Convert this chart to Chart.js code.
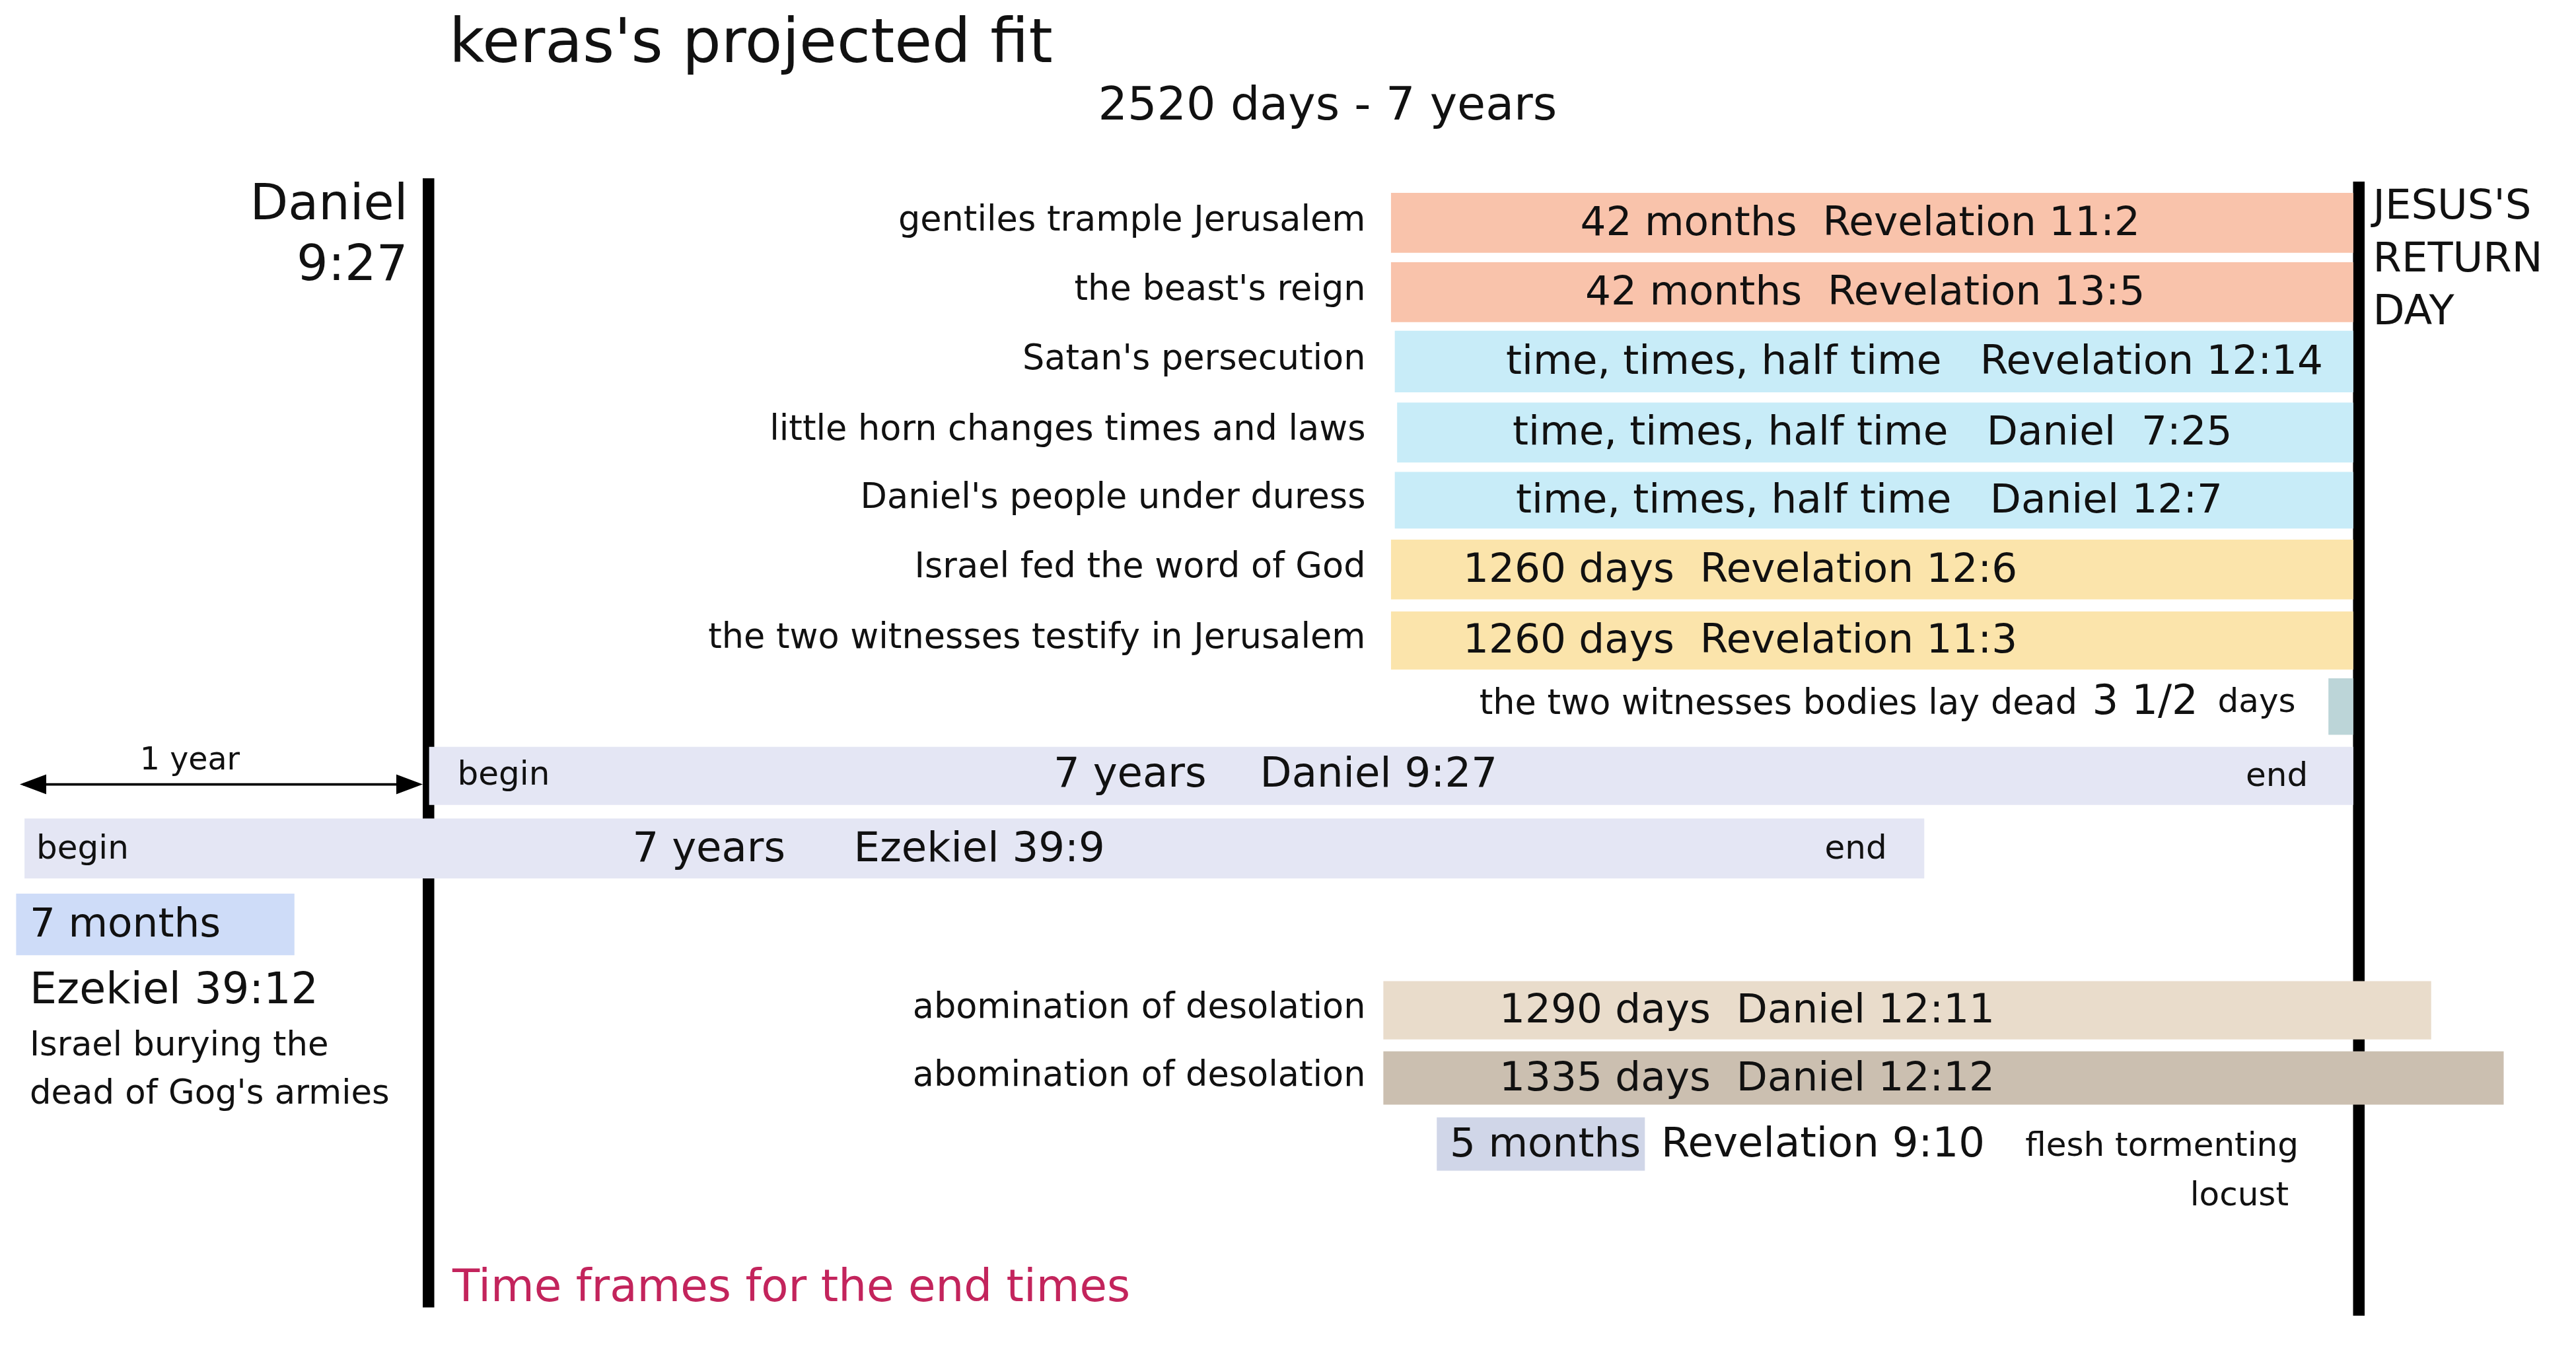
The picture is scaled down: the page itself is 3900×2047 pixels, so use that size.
<!DOCTYPE html>
<html><head><meta charset="utf-8">
<script src="https://cdn.jsdelivr.net/npm/chart.js@4"></script>
<style>html,body{margin:0;padding:0;background:#fff}#w{width:3900px;height:2047px}</style>
</head><body><div id="w"><canvas id="c"></canvas></div>
<script>
// ---- data (days relative to start of Daniel's 70th week) ----
const rowLabels = ["gentiles trample Jerusalem","the beast's reign","Satan's persecution","little horn changes times and laws","Daniel's people under duress","Israel fed the word of God","the two witnesses testify in Jerusalem","the two witnesses bodies lay dead","","","","abomination of desolation","abomination of desolation",""];
const barText = ["42 months  Revelation 11:2","42 months  Revelation 13:5","time, times, half time   Revelation 12:14","time, times, half time   Daniel  7:25","time, times, half time   Daniel 12:7","1260 days  Revelation 12:6","1260 days  Revelation 11:3","","","","7 months","1290 days  Daniel 12:11","1335 days  Daniel 12:12","5 months"];
const barStart = [1260,1260,1265,1268,1265,1260,1260,2488,0,-530,-541,1250,1250,1320];
const barEnd   = [2520,2520,2520,2520,2520,2520,2520,2520,2520,1958,-177,2622,2717,1592];
const rowPos   = [135,177,219,262,303,345,388,428,470,514,560,612,653,693];
const timelineDays = [0,2520];

// ---- style ----
const S = 2.5;
const colors = ["#f9c3ab","#f9c3ab","#c8ecf8","#c8ecf8","#c8ecf8","#fbe4ab","#fbe4ab","#bcd5d8","#e4e6f4","#e4e6f4","#cedcf8","#e9dccb","#cbbfb0","#d0d6e8"];
const heights = [36,36,37,36,34,36,35,34,35,36,37,35,32,32];
const textX = [957,960,912,916,918,886,886,0,0,0,18,908,908,878];
const FONT = "'DejaVu Sans'";
const f = (px)=> (px*S)+"px "+FONT;

const pxToDay = px => (px-260)/(1165/2520);

const overlay = {
  id:'overlay',
  beforeDatasetsDraw(ch){
    const c=ch.ctx, xs=ch.scales.x, ys=ch.scales.y;
    c.save(); c.fillStyle="#000";
    const lx=xs.getPixelForValue(timelineDays[0]), rx=xs.getPixelForValue(timelineDays[1]);
    c.fillRect(lx-4*S, ys.getPixelForValue(108), 7*S, ys.getPixelForValue(792)-ys.getPixelForValue(108));
    c.fillRect(rx, ys.getPixelForValue(110), 7*S, ys.getPixelForValue(797)-ys.getPixelForValue(110));
    c.restore();
  },
  afterDatasetsDraw(ch){
    const c=ch.ctx;
    const P = d=>d*S;
    c.save(); c.textBaseline="middle";
    const txt=(t,x,y,size,align,col)=>{c.font=f(size);c.textAlign=align||"left";c.fillStyle=col||"#111";c.fillText(t,P(x),P(y));};
    rowLabels.forEach((l,i)=>{ if(l){ txt(l, i==7?1258:827, rowPos[i]-1, 21, "right"); }});
    barText.forEach((t,i)=>{ if(t){ txt(t, textX[i], rowPos[i]+1, 24.5, "left"); }});
    txt("3 1/2",1267,426,25); txt("days",1343,426,20);
    txt("begin",277,470,20); txt("7 years",638,470,25); txt("Daniel 9:27",763,470,25); txt("end",1360,471,20);
    txt("begin",22,515,20); txt("7 years",383,515,25); txt("Ezekiel 39:9",517,515,25); txt("end",1105,515,20);
    txt("Revelation 9:10",1006,694,25); txt("flesh tormenting",1392,695,20,"right"); txt("locust",1386,725,20,"right");
    txt("Daniel",247,125,30,"right"); txt("9:27",247,162,30,"right");
    txt("JESUS'S",1437,126,25); txt("RETURN",1437,158,25); txt("DAY",1437,190,25);
    txt("1 year",115,461,19,"center");
    txt("Ezekiel 39:12",18,601,26); txt("Israel burying the",18,634,20.5); txt("dead of Gog's armies",18,663,20.5);
    txt("Time frames for the end times",274,781,27,"left","#c3245c");
    txt("keras's projected fit",272,28,37); txt("2520 days - 7 years",665,65,28);
    c.strokeStyle="#000"; c.lineWidth=1.5*S; c.beginPath(); c.moveTo(P(14),P(475)); c.lineTo(P(253),P(475)); c.stroke();
    c.fillStyle="#000";
    c.beginPath(); c.moveTo(P(12),P(475)); c.lineTo(P(28),P(469)); c.lineTo(P(28),P(481)); c.fill();
    c.beginPath(); c.moveTo(P(256),P(475)); c.lineTo(P(240),P(469)); c.lineTo(P(240),P(481)); c.fill();
    c.restore();
  }
};

const data = barStart.map((s,i)=>({x:[s,barEnd[i]], y:rowPos[i]}));
new Chart(document.getElementById('c'),{
  type:'bar',
  data:{datasets:rowPos.map((p,i)=>({data:[data[i]], backgroundColor:colors[i], barThickness:heights[i]*S, borderWidth:0}))},
  options:{
    indexAxis:'y', responsive:true, maintainAspectRatio:false, devicePixelRatio:1, animation:false,
    layout:{padding:0},
    plugins:{legend:{display:false},tooltip:{enabled:false}},
    scales:{
      x:{type:'linear', min:pxToDay(0), max:pxToDay(1560), display:false, offset:false, grid:{offset:false}},
      y:{type:'linear', min:0, max:819, reverse:true, display:false, offset:false, grid:{offset:false}}
    },
    datasets:{bar:{grouped:false}}
  },
  plugins:[overlay]
});
</script></body></html>
